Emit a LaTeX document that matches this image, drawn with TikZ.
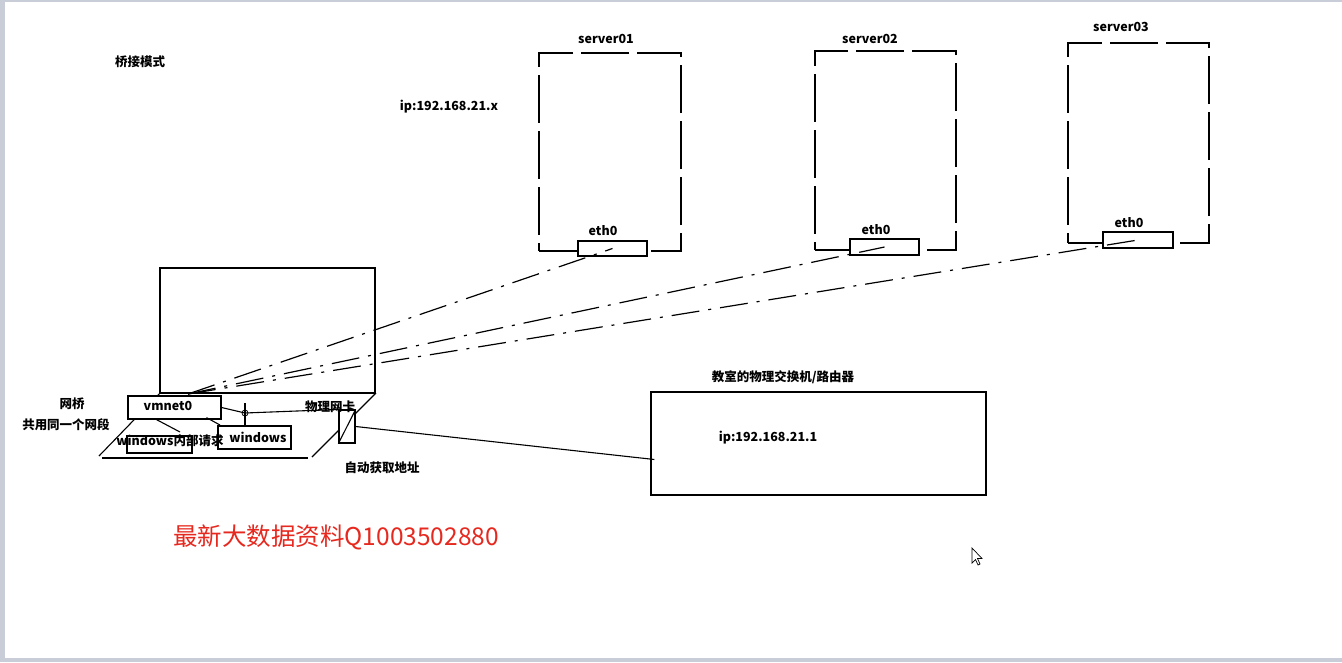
\documentclass[tikz,border=0pt]{standalone}
\usepackage{fontspec}
\setmainfont{Noto Sans CJK SC}
\usetikzlibrary{calc}
\definecolor{redtxt}{RGB}{230,40,30}
\definecolor{framegray}{RGB}{200,205,215}
\tikzset{
  box/.style={draw, line width=1.2pt, inner sep=0pt},
  srvbox/.style={box, dash pattern=on 48pt off 8pt},
  lbl/.style={font=\fontsize{12.5}{14}\selectfont\bfseries, inner sep=0pt},
  link/.style={line width=1.2pt, dash pattern=on 28pt off 9pt on 3pt off 9pt},
  wire/.style={line width=1.1pt}
}
\begin{document}
\begin{tikzpicture}[x=1pt,y=-1pt]
\useasboundingbox (0,0) rectangle (1342,662);
\fill[white] (0,0) rectangle (1342,662);
\fill[framegray] (0,0) rectangle (5,662);
\fill[framegray] (0,0) rectangle (1342,2);
\fill[framegray] (0,658) rectangle (1342,662);

% title texts
\node[lbl] (mode) at (140,62) {桥接模式};
\node[lbl] (ipx) at (449,107) {ip:192.168.21.x};

% servers
\node[srvbox, minimum width=142pt, minimum height=198pt] (s1) at (610,152) {};
\node[srvbox, minimum width=141pt, minimum height=199pt] (s2) at (885.5,150.5) {};
\node[srvbox, minimum width=141pt, minimum height=200pt] (s3) at (1138.5,143) {};
\node[lbl] (s1l) at (606,39) {server01};
\node[lbl] (s2l) at (870,39) {server02};
\node[lbl] (s3l) at (1121,27) {server03};
\node[box, fill=white, minimum width=69pt, minimum height=15pt] (e1) at (612.5,248.5) {};
\node[box, fill=white, minimum width=69pt, minimum height=16pt] (e2) at (884.5,247) {};
\node[box, fill=white, minimum width=70pt, minimum height=16pt] (e3) at (1138,240) {};
\node[lbl] (e1l) at (603,231) {eth0};
\node[lbl] (e2l) at (876,230) {eth0};
\node[lbl] (e3l) at (1129,223) {eth0};

% host
\node[box, minimum width=215pt, minimum height=125pt] (mon) at (267.5,330.5) {};
\coordinate (pl1) at (160,393);
\coordinate (pl2) at (99,456);
\coordinate (pl3) at (376,393);
\coordinate (pl4) at (312,457);
\coordinate (pl5) at (102,458);
\coordinate (pl6) at (308,458);
\draw[wire] (pl1) -- (pl2);
\draw[wire] (pl3) -- (pl4);
\draw[wire] (pl5) -- (pl6);

\node[box, fill=white, minimum width=93pt, minimum height=23pt] (vm) at (174.5,407.5) {};
\node[lbl] (vml) at (168,406) {vmnet0};
\node[box, minimum width=65pt, minimum height=17pt] (wr) at (159.5,444.5) {};
\node[box, fill=white, minimum width=73pt, minimum height=23pt] (win) at (254.5,437.5) {};
\node[lbl] (winl) at (258,437) {windows};
\node[lbl] (wrl) at (170,441) {windows内部请求};
\node[box, fill=white, minimum width=16pt, minimum height=33pt] (nic) at (347,426.5) {};
\draw[wire] (nic.south west) -- (nic.north east);
\node[lbl] (nicl) at (330,407) {物理网卡};
\node[lbl] (auto) at (382,468) {自动获取地址};
\node[lbl] (br) at (72,404) {网桥};
\node[lbl] (seg) at (66,425) {共用同一个网段};

% internal wires
\coordinate (cross) at (245,413);
\draw[wire] (vm.east) -- (cross) -- (nic.north west);
\draw[wire] ($(cross)+(0,-10)$) -- ($(cross)+(0,12)$);
\draw[line width=0.8pt] (cross) circle (3pt);
\draw[wire] ($(vm.south)+(-18,0)$) -- (180,432);
\draw[wire] ($(vm.south)+(32,-2)$) -- (220,425);

% router
\node[box, minimum width=335pt, minimum height=103pt] (rt) at (818.5,443.5) {};
\node[lbl] (rtl) at (783,377) {教室的物理交换机/路由器};
\node[lbl] (rtip) at (768,438) {ip:192.168.21.1};
\draw[wire] (nic.east) -- ($(rt.west)+(4,16)$);

% bridged links
\coordinate (src) at (188,394);
\draw[link] (src) -- (e1.center);
\draw[link] (src) -- (e2.center);
\draw[link] (src) -- (e3.center);

% watermark
\node[anchor=west, text=redtxt, font=\fontsize{24.5}{27}\selectfont, inner sep=0pt] (wm) at (173,537) {最新大数据资料Q1003502880};

% cursor
\draw[line width=0.7pt, fill=white] (972,548) -- (972,563) -- (975.5,559.5) -- (978,565) -- (980,564) -- (977.5,558.5) -- (982,558.5) -- cycle;
\end{tikzpicture}
\end{document}
